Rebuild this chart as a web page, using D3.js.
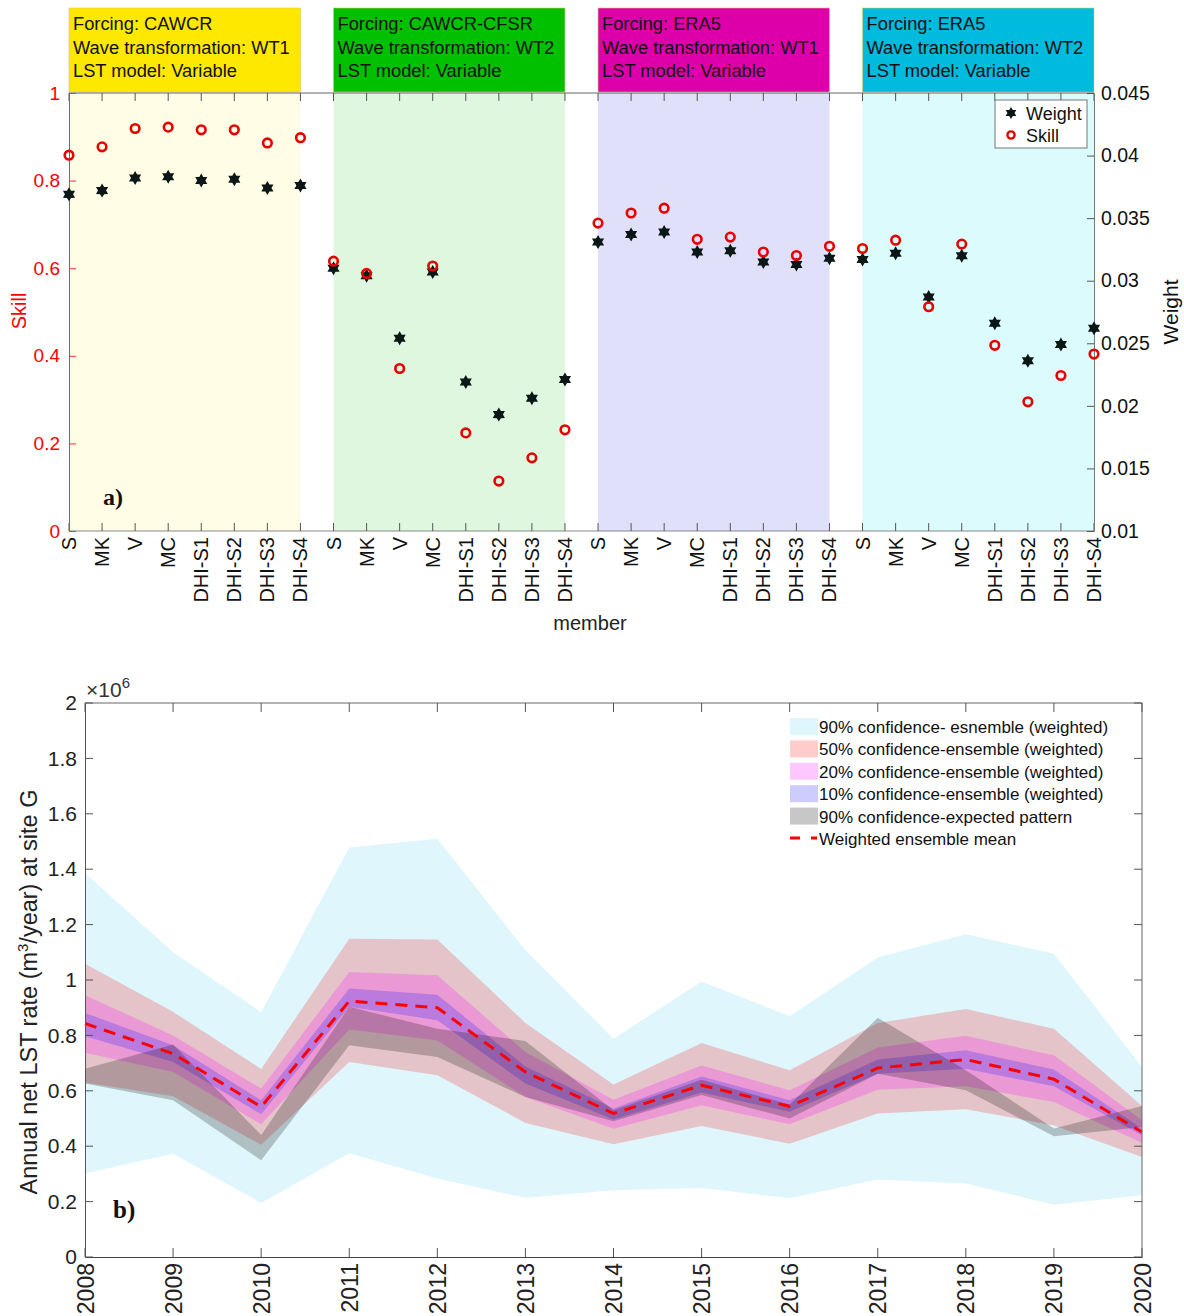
<!DOCTYPE html>
<html>
<head>
<meta charset="utf-8">
<script src="https://cdn.jsdelivr.net/npm/d3@7"></script>
<style>
  body { margin: 0; background: #fff; }
  text { font-family: "Liberation Sans", Arial, sans-serif; }
</style>
</head>
<body>
<div id="chart"></div>
<script>
// ---- data, panel a ----
const groupNames = ['CAWCR', 'CAWCR-CFSR', 'ERA5', 'ERA5'];
const groupWT = ['WT1', 'WT2', 'WT1', 'WT2'];
const memberNames = ['S', 'MK', 'V', 'MC', 'DHI-S1', 'DHI-S2', 'DHI-S3', 'DHI-S4'];
const skill = [
  0.858, 0.877, 0.919, 0.922, 0.916, 0.916, 0.886, 0.898,
  0.616, 0.588, 0.371, 0.605, 0.224, 0.114, 0.167, 0.231,
  0.703, 0.726, 0.737, 0.666, 0.671, 0.637, 0.629, 0.650,
  0.645, 0.664, 0.512, 0.655, 0.424, 0.295, 0.355, 0.404
];
const weight = [
  0.0369, 0.0372, 0.0382, 0.0383, 0.0380, 0.0381, 0.0374, 0.0376,
  0.0310, 0.0304, 0.0254, 0.0307, 0.0219, 0.0193, 0.0206, 0.0221,
  0.0331, 0.0337, 0.0339, 0.0323, 0.0324, 0.0315, 0.0313, 0.0318,
  0.0317, 0.0322, 0.0287, 0.0320, 0.0266, 0.0236, 0.0249, 0.0262
];
const skillTicks = [0, 0.2, 0.4, 0.6, 0.8, 1];
const weightTicks = [0.01, 0.015, 0.02, 0.025, 0.03, 0.035, 0.04, 0.045];

// ---- data, panel b (x10^6 m3/year) ----
const years = [2008, 2009, 2010, 2011, 2012, 2013, 2014, 2015, 2016, 2017, 2018, 2019, 2020];
const ci90Hi = [1.385, 1.100, 0.884, 1.478, 1.510, 1.107, 0.788, 0.995, 0.869, 1.081, 1.165, 1.095, 0.686];
const ci90Lo = [0.301, 0.373, 0.195, 0.375, 0.283, 0.214, 0.241, 0.249, 0.212, 0.280, 0.265, 0.189, 0.223];
const ci50Hi = [1.059, 0.885, 0.679, 1.149, 1.146, 0.845, 0.623, 0.773, 0.674, 0.845, 0.895, 0.824, 0.545];
const ci50Lo = [0.630, 0.580, 0.405, 0.704, 0.656, 0.484, 0.407, 0.473, 0.409, 0.518, 0.533, 0.475, 0.361];
const ci20Hi = [0.945, 0.800, 0.608, 1.029, 1.017, 0.740, 0.568, 0.691, 0.602, 0.756, 0.799, 0.728, 0.494];
const ci20Lo = [0.737, 0.668, 0.479, 0.821, 0.782, 0.578, 0.463, 0.548, 0.479, 0.604, 0.616, 0.560, 0.412];
const ci10Hi = [0.881, 0.764, 0.566, 0.969, 0.947, 0.688, 0.536, 0.652, 0.566, 0.713, 0.746, 0.677, 0.464];
const ci10Lo = [0.797, 0.704, 0.515, 0.903, 0.855, 0.626, 0.496, 0.594, 0.524, 0.662, 0.680, 0.616, 0.439];
const patHi  = [0.680, 0.767, 0.440, 0.903, 0.824, 0.780, 0.530, 0.640, 0.550, 0.864, 0.674, 0.464, 0.545];
const patLo  = [0.626, 0.566, 0.349, 0.764, 0.722, 0.578, 0.490, 0.585, 0.500, 0.662, 0.602, 0.436, 0.469];
const ensMean = [0.843, 0.734, 0.542, 0.924, 0.900, 0.668, 0.518, 0.620, 0.544, 0.682, 0.713, 0.642, 0.451];
const valueTicks = [0, 0.2, 0.4, 0.6, 0.8, 1, 1.2, 1.4, 1.6, 1.8, 2];

const legendItems = [
  { label: '90% confidence- esnemble (weighted)', fill: '#dff6fc', op: 1 },
  { label: '50% confidence-ensemble (weighted)', fill: '#ff0000', op: 0.2 },
  { label: '20% confidence-ensemble (weighted)', fill: '#ff00ff', op: 0.22 },
  { label: '10% confidence-ensemble (weighted)', fill: '#0000ff', op: 0.2 },
  { label: '90% confidence-expected pattern', fill: '#000000', op: 0.22 }
];

const width = 1184;
const height = 1316;

const svg = d3.select('#chart').append('svg')
  .attr('width', width)
  .attr('height', height);

// ================= panel a =================
const members = groupNames.flatMap(() => memberNames);
const boxFill = ['#ffe800', '#00c000', '#dd00aa', '#00bbdd'];
const bgFill = ['#fffde6', '#dff6df', '#e1e0fb', '#dcfbfc'];

const ax = d3.scaleLinear().domain([0, members.length - 1]).range([69, 1094]);
const ySkill = d3.scaleLinear().domain([0, 1]).range([531, 93]);
const yWeight = d3.scaleLinear().domain([0.01, 0.045]).range([531, 93]);

const a = svg.append('g');

// shaded member groups
a.selectAll('.bg').data(groupNames).enter().append('rect')
  .attr('x', (d, i) => ax(i * 8))
  .attr('width', (d, i) => ax(i * 8 + 7) - ax(i * 8))
  .attr('y', ySkill(1))
  .attr('height', ySkill(0) - ySkill(1))
  .attr('fill', (d, i) => bgFill[i]);

// header boxes
const hdr = a.selectAll('.hdr').data(groupNames).enter().append('g')
  .attr('transform', (d, i) => `translate(${ax(i * 8)},8)`);
hdr.append('rect')
  .attr('width', (d, i) => ax(i * 8 + 7) - ax(i * 8))
  .attr('height', 84)
  .attr('fill', (d, i) => boxFill[i])
  .attr('stroke', '#d8c860').attr('stroke-width', 0.6);
hdr.each(function (d, i) {
  const lines = [`Forcing: ${d}`, `Wave transformation: ${groupWT[i]}`, 'LST model: Variable'];
  d3.select(this).selectAll('text').data(lines).enter().append('text')
    .attr('x', 4).attr('y', (t, j) => 22 + j * 23.5)
    .attr('font-size', 18.3).attr('fill', '#111')
    .text(t => t);
});

// frame
a.append('line').attr('x1', ax(0)).attr('x2', ax(31)).attr('y1', 93).attr('y2', 93).attr('stroke', '#666');
a.append('line').attr('x1', ax(0)).attr('x2', ax(31)).attr('y1', 531).attr('y2', 531).attr('stroke', '#888');

// x ticks (top & bottom)
a.selectAll('.xt').data(members).enter().append('path')
  .attr('d', (d, i) => `M${ax(i)},93v8M${ax(i)},531v-8`)
  .attr('stroke', '#555');

// left skill axis (red)
const leftAx = a.append('g').attr('transform', `translate(${ax(0)},0)`)
  .call(d3.axisLeft(ySkill).tickValues(skillTicks).tickSize(-7).tickPadding(9).tickFormat(d3.format('')));
leftAx.select('.domain').attr('stroke', '#ff3030');
leftAx.selectAll('.tick line').attr('stroke', '#ff3030');
leftAx.selectAll('text').attr('fill', '#ff0000').attr('font-size', 19).attr('font-family', 'Liberation Sans, Arial, sans-serif');

// right weight axis
const rightAx = a.append('g').attr('transform', `translate(${ax(31)},0)`)
  .call(d3.axisRight(yWeight).tickValues(weightTicks).tickSize(-7).tickPadding(7).tickFormat(d3.format('')));
rightAx.select('.domain').attr('stroke', '#777');
rightAx.selectAll('.tick line').attr('stroke', '#555');
rightAx.selectAll('text').attr('fill', '#111').attr('font-size', 19.5).attr('font-family', 'Liberation Sans, Arial, sans-serif');

// member labels
a.selectAll('.ml').data(members).enter().append('text')
  .attr('transform', (d, i) => `translate(${ax(i) + 7},537) rotate(-90)`)
  .attr('text-anchor', 'end')
  .attr('font-size', 20).attr('fill', '#111')
  .text(d => d);

a.append('text').attr('x', 590).attr('y', 630).attr('text-anchor', 'middle')
  .attr('font-size', 20).attr('fill', '#222').text('member');
a.append('text').attr('transform', 'translate(26,311) rotate(-90)').attr('text-anchor', 'middle')
  .attr('font-size', 20).attr('fill', '#ff0000').text('Skill');
a.append('text').attr('transform', 'translate(1178,312) rotate(-90)').attr('text-anchor', 'middle')
  .attr('font-size', 21).attr('fill', '#111').text('Weight');
a.append('text').attr('x', 103).attr('y', 505)
  .style('font-family', '"Liberation Serif", "Times New Roman", serif')
  .attr('font-size', 24).attr('font-weight', 'bold').attr('fill', '#111').text('a)');

// six-pointed star marker
const hexagram = {
  draw(ctx, size) {
    const r = Math.sqrt(size) / 2, ri = r * 0.58;
    for (let k = 0; k < 12; k++) {
      const ang = -Math.PI / 2 + k * Math.PI / 6;
      const rr = k % 2 ? ri : r;
      k ? ctx.lineTo(rr * Math.cos(ang), rr * Math.sin(ang)) : ctx.moveTo(rr * Math.cos(ang), rr * Math.sin(ang));
    }
    ctx.closePath();
  }
};
const starPath = d3.symbol().type(hexagram).size(196);

a.selectAll('.w').data(weight).enter().append('path')
  .attr('transform', (d, i) => `translate(${ax(i)},${yWeight(d)})`)
  .attr('d', starPath)
  .attr('fill', '#0b1616');

a.selectAll('.s').data(skill).enter().append('circle')
  .attr('cx', (d, i) => ax(i)).attr('cy', d => ySkill(d))
  .attr('r', 4.3)
  .attr('fill', 'none').attr('stroke', '#e60000').attr('stroke-width', 2.6);

// legend a
const lg = a.append('g').attr('transform', 'translate(995,100)');
lg.append('rect').attr('width', 92).attr('height', 48).attr('fill', '#fff').attr('stroke', '#777');
lg.append('path').attr('transform', 'translate(16,13)').attr('d', d3.symbol().type(hexagram).size(150)).attr('fill', '#0b1616');
lg.append('circle').attr('cx', 16).attr('cy', 35).attr('r', 3.6).attr('fill', 'none').attr('stroke', '#e60000').attr('stroke-width', 2.4);
lg.append('text').attr('x', 31).attr('y', 20).attr('font-size', 18).attr('fill', '#111').text('Weight');
lg.append('text').attr('x', 31).attr('y', 42).attr('font-size', 18).attr('fill', '#111').text('Skill');

// ================= panel b =================
const bx = d3.scaleLinear().domain([2008, 2020]).range([85, 1142]);
const by = d3.scaleLinear().domain([0, 2]).range([1257, 703]);
const b = svg.append('g');

const area = (lo, hi) => d3.area()
  .x((d, i) => bx(years[i]))
  .y0((d, i) => by(lo[i]))
  .y1((d, i) => by(hi[i]))(years);

const bands = [[ci90Lo, ci90Hi], [ci50Lo, ci50Hi], [ci20Lo, ci20Hi], [ci10Lo, ci10Hi], [patLo, patHi]];
bands.forEach(([lo, hi], k) => {
  b.append('path').attr('d', area(lo, hi))
    .attr('fill', legendItems[k].fill).attr('fill-opacity', legendItems[k].op);
});

b.append('path')
  .attr('d', d3.line().x((d, i) => bx(years[i])).y(d => by(d))(ensMean))
  .attr('fill', 'none').attr('stroke', '#ff0000').attr('stroke-width', 3)
  .attr('stroke-dasharray', '12,8');

// frame
b.append('path').attr('d', `M${bx(2008)},${by(2)}H${bx(2020)}V${by(0)}`).attr('fill', 'none').attr('stroke', '#666');

const leftB = b.append('g').attr('transform', `translate(${bx(2008)},0)`)
  .call(d3.axisLeft(by).tickValues(valueTicks).tickSize(0).tickPadding(8).tickFormat(d3.format('')));
leftB.select('.domain').attr('stroke', '#555');
leftB.selectAll('text').attr('fill', '#222').attr('font-size', 21).attr('font-family', 'Liberation Sans, Arial, sans-serif');
b.selectAll('.yt').data(valueTicks).enter().append('path')
  .attr('d', d => `M${bx(2008)},${by(d)}h8M${bx(2020)},${by(d)}h-8`)
  .attr('stroke', '#555');

const bottomB = b.append('g').attr('transform', `translate(0,${by(0)})`)
  .call(d3.axisBottom(bx).tickValues(years).tickSize(0).tickFormat(d3.format('d')));
bottomB.select('.domain').attr('stroke', '#444');
bottomB.selectAll('text')
  .attr('transform', 'rotate(-90)')
  .attr('x', -6).attr('y', 0).attr('dy', '0.35em')
  .attr('text-anchor', 'end')
  .attr('fill', '#222').attr('font-size', 23).attr('font-family', 'Liberation Sans, Arial, sans-serif');
b.selectAll('.xtb').data(years).enter().append('path')
  .attr('d', d => `M${bx(d)},${by(0)}v-9M${bx(d)},${by(2)}v9`)
  .attr('stroke', '#555');

// multiplier
const mult = b.append('text').attr('x', 86).attr('y', 697).attr('font-size', 21).attr('fill', '#333');
mult.append('tspan').text('\u00d710');
mult.append('tspan').attr('font-size', 15).attr('dy', -9).text('6');

// y label
const yl = b.append('text').attr('transform', 'translate(37,992) rotate(-90)')
  .attr('text-anchor', 'middle').attr('font-size', 23.5).attr('fill', '#222');
yl.append('tspan').text('Annual net LST rate (m');
yl.append('tspan').attr('font-size', 15).attr('dy', -9).text('3');
yl.append('tspan').attr('dy', 9).text('/year) at site G');

b.append('text').attr('x', 113).attr('y', 1218)
  .style('font-family', '"Liberation Serif", "Times New Roman", serif')
  .attr('font-size', 25).attr('font-weight', 'bold').attr('fill', '#111').text('b)');

// legend b
const lb = b.append('g').attr('transform', 'translate(790,718)');
lb.selectAll('rect').data(legendItems).enter().append('rect')
  .attr('x', 0).attr('y', (d, i) => i * 22.4).attr('width', 28).attr('height', 17)
  .attr('fill', d => d.fill).attr('fill-opacity', d => d.op);
lb.selectAll('text').data(legendItems.map(d => d.label).concat(['Weighted ensemble mean'])).enter().append('text')
  .attr('x', 29).attr('y', (d, i) => i * 22.4 + 15)
  .attr('font-size', 17).attr('fill', '#111').text(d => d);
lb.append('path').attr('d', `M0,${5 * 22.4 + 8}h10M21,${5 * 22.4 + 8}h6`)
  .attr('stroke', '#ff0000').attr('stroke-width', 3);
</script>
</body>
</html>
